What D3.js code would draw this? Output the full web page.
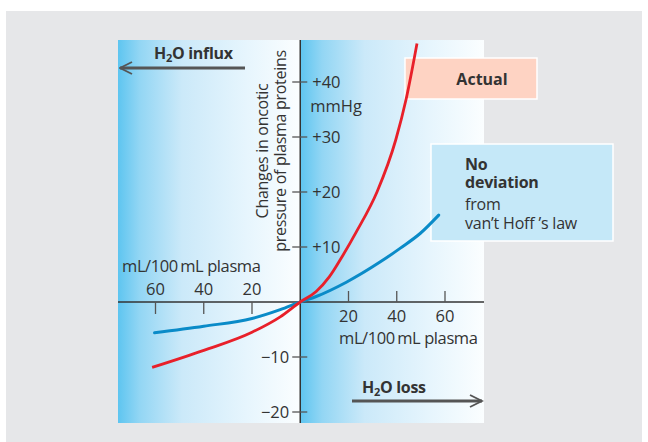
<!DOCTYPE html>
<html><head><meta charset="utf-8">
<script src="https://cdn.jsdelivr.net/npm/d3@7"></script>
<style>
body{margin:0;background:#fff;}
svg{display:block;font-family:"Open Sans",sans-serif;}
</style></head>
<body>
<svg id="c" width="648" height="442"></svg>
<script>
// ---- data ----
const yTicks = [40, 30, 20, 10, -10, -20];
const yTickLabels = ["+40", "+30", "+20", "+10", "\u221210", "\u221220"];
const xTicksRight = [20, 40, 60];
const xTicksLeft = [-60, -40, -20];
const xTickLabelsLeft = ["60", "40", "20"];
const actualX = [-61.4, -40, -20, -8.3, 0, 6.6, 12.1, 17.7, 23.3, 31.9, 39.6, 43.9, 48.4];
const actualY = [-11.9, -8.8, -5.5, -2.7, 0, 1.9, 4.6, 8.5, 12.8, 20.1, 29.5, 36.9, 47];
const vantHoffX = [-60.4, -40, -20, -8.3, 0, 6.6, 19.1, 33.2, 41.5, 49.8, 57.4];
const vantHoffY = [-5.6, -4.4, -3.0, -1.4, 0, 1.0, 3.6, 7.3, 9.8, 12.5, 15.8];

const svg = d3.select("#c");
const x = d3.scaleLinear().domain([-60, 60]).range([155.5, 445]);
const y = d3.scaleLinear().domain([40, -20]).range([82, 412]);
const x0 = x(0), y0 = y(0);
const L = 118, R = 484, T = 40, B = 423;
const FS = 16.5, TXT = "#333";

// background
svg.append("rect").attr("x", 6).attr("y", 11).attr("width", 636).attr("height", 431).attr("fill", "#e6e7e9");

const defs = svg.append("defs");
const g = defs.append("linearGradient").attr("id", "grad").attr("x1", 0).attr("x2", 1).attr("y1", 0).attr("y2", 0);
[[0, "#5ec5f0"], [0.12, "#93d6f4"], [0.35, "#cbe9f9"], [0.7, "#e6f5fd"], [1, "#fbfeff"]].forEach(s =>
  g.append("stop").attr("offset", s[0]).attr("stop-color", s[1]));
const ar = defs.append("marker").attr("id", "arr").attr("viewBox", "0 0 10 10").attr("refX", 9).attr("refY", 5)
  .attr("markerWidth", 5).attr("markerHeight", 5).attr("orient", "auto-start-reverse").attr("markerUnits", "strokeWidth");
ar.append("path").attr("d", "M1,1 L9,5 L1,9").attr("fill", "none").attr("stroke", "#555").attr("stroke-width", 1.3);

svg.append("rect").attr("x", L).attr("y", T).attr("width", x0 - L).attr("height", B - T).attr("fill", "url(#grad)");
svg.append("rect").attr("x", x0).attr("y", T).attr("width", R - x0).attr("height", B - T).attr("fill", "url(#grad)");

// boxes
svg.append("rect").attr("x", 405).attr("y", 58).attr("width", 132).attr("height", 41)
  .attr("fill", "#fed3c3").attr("stroke", "#fff").attr("stroke-width", 1.5);
svg.append("text").attr("x", 482).attr("y", 85).attr("text-anchor", "middle").attr("font-size", 16).attr("font-weight", "bold").attr("fill", TXT).text("Actual");

svg.append("rect").attr("x", 431).attr("y", 144).attr("width", 182).attr("height", 97)
  .attr("fill", "#c5e8f8").attr("stroke", "#fff").attr("stroke-width", 1.5);
const nd = [["No", 170, "bold"], ["deviation", 188, "bold"], ["from", 210, "normal"], ["van\u2019t Hoff \u2019s law", 229, "normal"]];
nd.forEach(d => svg.append("text").attr("x", 465).attr("y", d[1]).attr("font-size", 16).attr("font-weight", d[2]).attr("fill", TXT).attr("letter-spacing", -0.2).text(d[0]));

// axes
svg.append("line").attr("x1", L).attr("x2", R).attr("y1", y0).attr("y2", y0).attr("stroke", "#333").attr("stroke-width", 1.5);
svg.append("line").attr("x1", x0).attr("x2", x0).attr("y1", T).attr("y2", B).attr("stroke", "#333").attr("stroke-width", 1.5);

yTicks.forEach((v, i) => {
  svg.append("line").attr("x1", x0 - 8).attr("x2", x0 + 7).attr("y1", y(v)).attr("y2", y(v)).attr("stroke", "#555").attr("stroke-width", 1.3);
  const neg = v < 0;
  svg.append("text").attr("x", neg ? x0 - 11 : x0 + 12).attr("y", y(v) + 6)
    .attr("text-anchor", neg ? "end" : "start").attr("font-size", FS).attr("fill", TXT).text(yTickLabels[i]);
});
svg.append("text").attr("x", x0 + 10).attr("y", 112).attr("font-size", FS).attr("fill", TXT).text("mmHg");

xTicksRight.forEach(v => {
  svg.append("line").attr("x1", x(v)).attr("x2", x(v)).attr("y1", y0 - 11).attr("y2", y0).attr("stroke", "#555").attr("stroke-width", 1.3);
  svg.append("text").attr("x", x(v)).attr("y", y0 + 20).attr("text-anchor", "middle").attr("font-size", FS).attr("fill", TXT).text(v);
});
xTicksLeft.forEach((v, i) => {
  svg.append("line").attr("x1", x(v)).attr("x2", x(v)).attr("y1", y0).attr("y2", y0 + 12).attr("stroke", "#555").attr("stroke-width", 1.3);
  svg.append("text").attr("x", x(v)).attr("y", y0 - 7).attr("text-anchor", "middle").attr("font-size", FS).attr("fill", TXT).text(xTickLabelsLeft[i]);
});
svg.append("text").attr("x", 122).attr("y", 272).attr("font-size", FS).attr("fill", TXT).attr("letter-spacing", -0.4).text("mL/100\u2009mL plasma");
svg.append("text").attr("x", 339).attr("y", 344).attr("font-size", FS).attr("fill", TXT).attr("letter-spacing", -0.4).text("mL/100\u2009mL plasma");

// y title
const yt = svg.append("text").attr("transform", "translate(268,151) rotate(-90)").attr("text-anchor", "middle").attr("font-size", 16).attr("fill", TXT).attr("letter-spacing", -0.3);
yt.append("tspan").attr("x", 0).attr("y", 0).text("Changes in oncotic");
yt.append("tspan").attr("x", 0).attr("y", 18).text("pressure of plasma proteins");

// arrows
svg.append("line").attr("x1", 245).attr("x2", 120).attr("y1", 68).attr("y2", 68).attr("stroke", "#555").attr("stroke-width", 3).attr("marker-end", "url(#arr)");
svg.append("line").attr("x1", 352).attr("x2", 482).attr("y1", 401).attr("y2", 401).attr("stroke", "#555").attr("stroke-width", 3).attr("marker-end", "url(#arr)");
const t1 = svg.append("text").attr("x", 154).attr("y", 59).attr("font-size", 16).attr("font-weight", "bold").attr("fill", TXT).attr("letter-spacing", -0.3);
t1.append("tspan").text("H");
t1.append("tspan").attr("font-size", 11).attr("dy", 3).text("2");
t1.append("tspan").attr("dy", -3).text("O influx");
const t2 = svg.append("text").attr("x", 362).attr("y", 393).attr("font-size", 16).attr("font-weight", "bold").attr("fill", TXT).attr("letter-spacing", -0.3);
t2.append("tspan").text("H");
t2.append("tspan").attr("font-size", 11).attr("dy", 3).text("2");
t2.append("tspan").attr("dy", -3).text("O loss");

// curves
const line = d3.line().x(d => x(d[0])).y(d => y(d[1])).curve(d3.curveMonotoneX);
svg.append("path").datum(vantHoffX.map((v, i) => [v, vantHoffY[i]])).attr("d", line)
  .attr("fill", "none").attr("stroke", "#0a8bc8").attr("stroke-width", 3).attr("stroke-linecap", "round");
svg.append("path").datum(actualX.map((v, i) => [v, actualY[i]])).attr("d", line)
  .attr("fill", "none").attr("stroke", "#e8202a").attr("stroke-width", 2.8);
</script>
</body></html>
